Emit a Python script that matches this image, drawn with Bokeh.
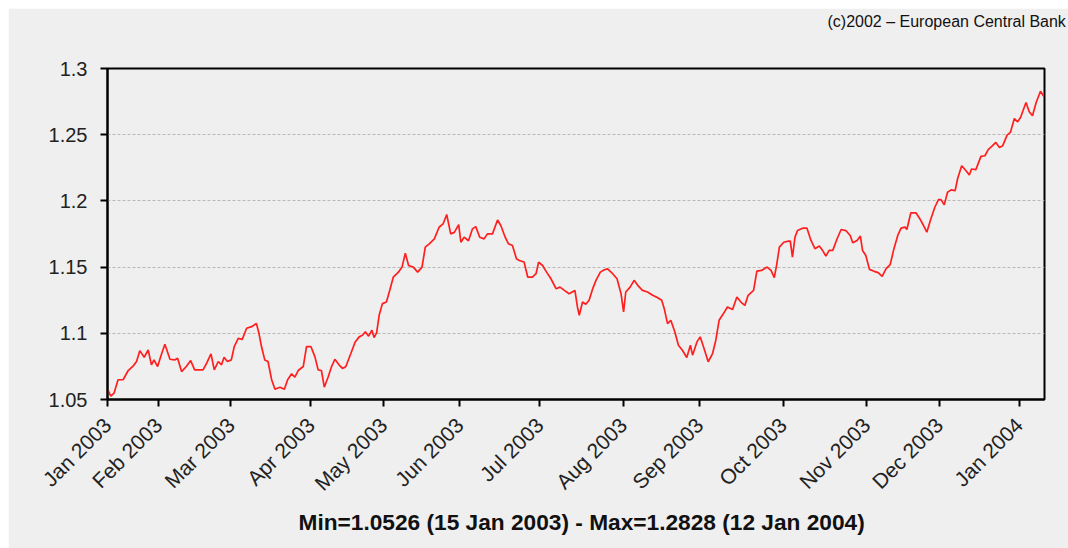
from bokeh.plotting import figure
from bokeh.models import Range1d, FixedTicker, Title, Spacer
from bokeh.layouts import column, row
from bokeh.embed import file_html
from bokeh.resources import INLINE
from math import pi

# trading-day index (0 = mid Jan 2003) and EUR/USD reference rate
days = [0.2, 0.9, 1.8, 2.9, 4.3, 5.7, 7.1, 8.0, 8.9, 10.1, 11.2, 12.1, 12.8, 13.8, 14.7, 15.8,
        17.2, 18.5, 19.3, 20.4, 21.7, 22.9, 24.0, 26.3, 27.3, 28.5, 29.4, 30.5, 31.4, 32.1,
        33.0, 34.1, 34.9, 36.0, 37.1, 38.3, 39.7, 41.0, 41.7, 42.4, 43.3, 44.2, 45.2, 46.1,
        47.5, 48.7, 49.6, 50.7, 51.6, 52.5, 53.9, 54.8, 56.0, 57.1, 58.0, 58.9, 59.7, 60.8,
        61.7, 62.6, 63.8, 64.7, 65.6, 67.0, 68.2, 69.3, 70.2, 71.0, 71.9, 72.8, 73.4, 74.1,
        74.8, 75.7, 76.8, 77.7, 78.7, 80.1, 81.1, 82.0, 82.9, 84.2, 85.4, 86.6, 87.5, 88.6,
        90.0, 91.3, 92.4, 93.4, 94.5, 95.5, 96.7, 97.3, 98.2, 99.4, 100.5, 101.4, 102.5,
        103.7, 104.6, 106.0, 107.4, 108.3, 109.5, 110.4, 111.5, 112.6, 113.4, 114.7, 115.7,
        117.0, 118.0, 118.7, 119.8, 120.9, 122.1, 123.5, 124.6, 125.8, 127.1, 128.7, 129.4,
        129.9, 130.8, 131.7, 132.6, 133.6, 134.5, 135.7, 136.8, 137.7, 139.1, 140.3, 141.4,
        142.1, 142.7, 143.9, 145.0, 146.0, 147.3, 148.7, 150.1, 151.5, 152.6, 153.3, 154.2,
        155.1, 156.2, 157.2, 158.3, 159.5, 160.5, 161.1, 162.3, 163.2, 164.1, 165.4, 166.6,
        167.5, 168.4, 169.6, 170.7, 172.1, 173.3, 174.4, 175.5, 176.4, 177.9, 178.8, 180.1,
        181.6, 182.7, 183.6, 184.3, 185.0, 186.2, 187.5, 188.0, 188.6, 189.3, 190.0, 191.4,
        192.6, 193.7, 194.8, 196.0, 196.9, 197.8, 198.7, 199.7, 200.9, 202.0, 203.3, 204.5,
        205.2, 206.4, 207.3, 207.9, 208.8, 209.8, 211.1, 212.2, 213.3, 214.4, 215.5, 216.5,
        217.6, 218.5, 219.6, 220.1, 221.2, 222.6, 223.8, 224.7, 225.6, 226.7, 227.8, 228.8,
        229.5, 230.4, 231.3, 232.3, 233.4, 234.1, 235.2, 236.4, 237.3, 237.9, 239.1, 240.5,
        241.6, 242.5, 243.7, 244.6, 245.6, 246.5, 247.7, 248.6, 249.7, 250.6, 251.4, 252.3,
        252.9, 253.8, 254.7, 255.7, 256.9, 257.8]

rates = [1.0568, 1.0526, 1.0548, 1.0649, 1.0649, 1.0719, 1.0754, 1.0787, 1.0869, 1.0819,
         1.0874, 1.0762, 1.0799, 1.0749, 1.0829, 1.0917, 1.0804, 1.0799, 1.0812, 1.0711,
         1.0749, 1.0794, 1.0724, 1.0724, 1.0774, 1.0844, 1.0724, 1.0787, 1.0762, 1.0819,
         1.0787, 1.0799, 1.0900, 1.0962, 1.0954, 1.1038, 1.1050, 1.1075, 1.1000, 1.0900,
         1.0799, 1.0787, 1.0649, 1.0578, 1.0593, 1.0578, 1.0649, 1.0694, 1.0669, 1.0719,
         1.0749, 1.0900, 1.0900, 1.0824, 1.0724, 1.0719, 1.0593, 1.0674, 1.0749, 1.0804,
         1.0760, 1.0735, 1.0747, 1.0847, 1.0935, 1.0973, 1.0985, 1.1011, 1.0978, 1.1023,
         1.0968, 1.1003, 1.1136, 1.1224, 1.1236, 1.1324, 1.1425, 1.1462, 1.1500, 1.1605,
         1.1512, 1.1500, 1.1462, 1.1500, 1.1651, 1.1676, 1.1713, 1.1801, 1.1826, 1.1897,
         1.1751, 1.1762, 1.1821, 1.1688, 1.1726, 1.1699, 1.1789, 1.1806, 1.1726, 1.1713,
         1.1751, 1.1751, 1.1856, 1.1814, 1.1726, 1.1676, 1.1663, 1.1563, 1.1550, 1.1538,
         1.1425, 1.1425, 1.1450, 1.1538, 1.1512, 1.1462, 1.1412, 1.1337, 1.1349, 1.1324,
         1.1299, 1.1324, 1.1199, 1.1136, 1.1236, 1.1219, 1.1249, 1.1337, 1.1400, 1.1462,
         1.1480, 1.1487, 1.1450, 1.1412, 1.1299, 1.1161, 1.1312, 1.1349, 1.1400, 1.1362,
         1.1324, 1.1312, 1.1287, 1.1269, 1.1249, 1.1186, 1.1073, 1.1098, 1.1011, 1.0910,
         1.0872, 1.0817, 1.0910, 1.0835, 1.0935, 1.0973, 1.0898, 1.0785, 1.0847, 1.0948,
         1.1098, 1.1149, 1.1199, 1.1179, 1.1274, 1.1236, 1.1211, 1.1287, 1.1324, 1.1470,
         1.1475, 1.1500, 1.1475, 1.1420, 1.1525, 1.1651, 1.1688, 1.1696, 1.1696, 1.1575,
         1.1726, 1.1776, 1.1794, 1.1794, 1.1701, 1.1639, 1.1659, 1.1626, 1.1583, 1.1626,
         1.1626, 1.1714, 1.1784, 1.1776, 1.1739, 1.1684, 1.1701, 1.1734, 1.1626, 1.1588,
         1.1483, 1.1468, 1.1458, 1.1430, 1.1488, 1.1518, 1.1634, 1.1739, 1.1794, 1.1802,
         1.1784, 1.1910, 1.1910, 1.1859, 1.1814, 1.1764, 1.1864, 1.1952, 1.2010, 1.2010,
         1.1970, 1.2065, 1.2083, 1.2078, 1.2171, 1.2266, 1.2228, 1.2196, 1.2241, 1.2236,
         1.2336, 1.2341, 1.2387, 1.2417, 1.2442, 1.2404, 1.2417, 1.2497, 1.2517, 1.2622,
         1.2597, 1.2630, 1.2698, 1.2743, 1.2673, 1.2643, 1.2743, 1.2828, 1.2788]

month_ticks = [0, 14, 34, 56, 76, 97, 119, 142, 163, 186, 209, 229, 251]
month_labels = ["Jan 2003", "Feb 2003", "Mar 2003", "Apr 2003", "May 2003", "Jun 2003",
                "Jul 2003", "Aug 2003", "Sep 2003", "Oct 2003", "Nov 2003", "Dec 2003",
                "Jan 2004"]
y_ticks = [1.05, 1.1, 1.15, 1.2, 1.25, 1.3]
y_labels = ["1.05", "1.1", "1.15", "1.2", "1.25", "1.3"]

title_text = "Min=1.0526 (15 Jan 2003) - Max=1.2828 (12 Jan 2004)"
credit_text = "(c)2002 \u2013 European Central Bank"

BG = "#efefef"
p = figure(width=1060, height=540, output_backend="svg", toolbar_location=None,
           title=None, x_range=Range1d(0, 258), y_range=Range1d(1.05, 1.3),
           min_border_left=99, min_border_right=24, min_border_top=60,
           min_border_bottom=149)
p.background_fill_color = BG
p.border_fill_color = BG
p.outline_line_color = "black"
p.outline_line_width = 2

p.line(days, rates, line_color="#ff1f1f", line_width=1.7)

# axes
p.xaxis.ticker = FixedTicker(ticks=month_ticks)
p.xaxis.major_label_overrides = {t: l for t, l in zip(month_ticks, month_labels)}
p.xaxis.major_label_orientation = pi / 4
p.yaxis.ticker = FixedTicker(ticks=y_ticks)
p.yaxis.major_label_overrides = {t: l for t, l in zip(y_ticks, y_labels)}
for ax in (p.xaxis, p.yaxis):
    ax.axis_line_color = "black"
    ax.axis_line_width = 2
    ax.major_tick_line_color = "black"
    ax.major_tick_line_width = 2
    ax.major_tick_out = 7
    ax.major_tick_in = 0
    ax.minor_tick_line_color = None
    ax.major_label_text_font = "Liberation Sans"
    ax.major_label_text_color = "#222222"
p.xaxis.major_label_text_font_size = "21px"
p.yaxis.major_label_text_font_size = "20px"
p.xaxis.major_label_standoff = 15
p.yaxis.major_label_standoff = 13

p.xgrid.grid_line_color = None
p.ygrid.ticker = FixedTicker(ticks=y_ticks)
p.ygrid.grid_line_color = "#b8b8b8"
p.ygrid.grid_line_dash = "3 2"
p.ygrid.grid_line_width = 1.2

p.add_layout(Title(text=title_text, align="left", offset=191, standoff=3,
                   text_font="Liberation Sans", text_font_style="bold",
                   text_font_size="22.7px", text_color="#111111"), "below")
# blank spacer title keeps the credit line near the top edge
p.add_layout(Title(text=" ", standoff=20, text_font_size="16px"), "above")
p.add_layout(Title(text=credit_text, align="left", offset=720, standoff=0,
                   text_font="Liberation Sans", text_font_style="normal",
                   text_font_size="16px", text_color="#111111"), "above")

layout = column(Spacer(height=8, width=1068), row(Spacer(width=8, height=540), p))
open("out.html", "w").write(file_html(layout, INLINE))
